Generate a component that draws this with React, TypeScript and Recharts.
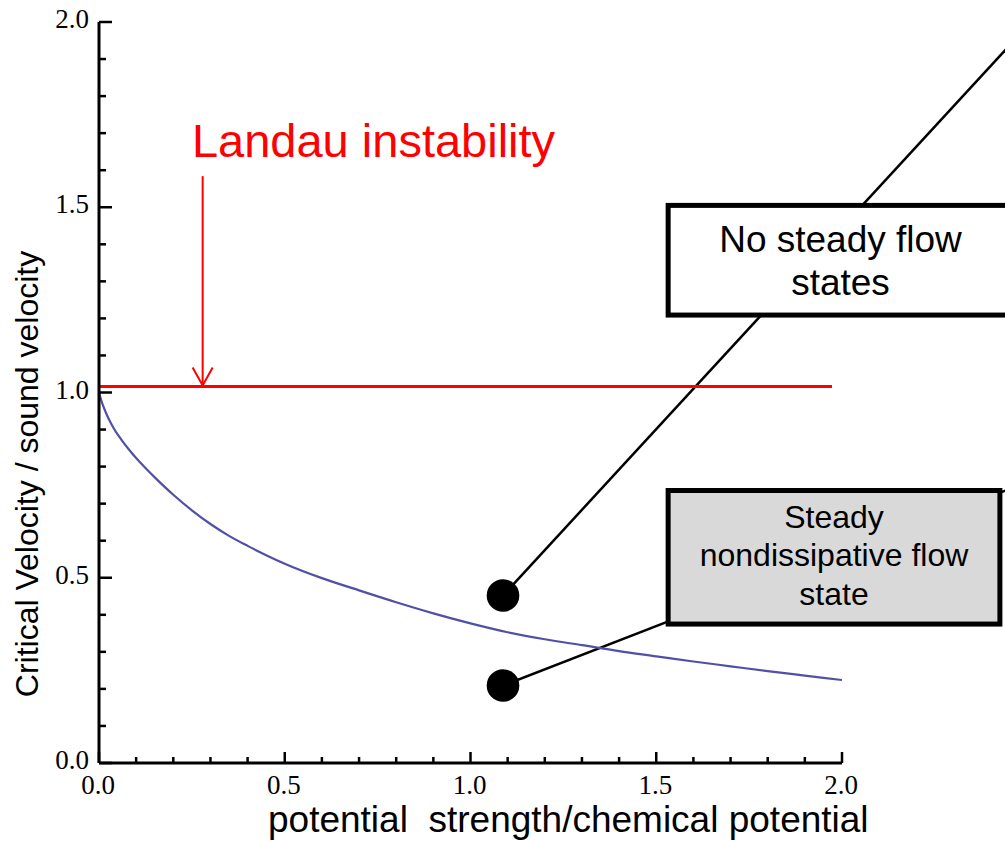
import React from 'react';
import {
  ComposedChart,
  Line,
  Scatter,
  XAxis,
  YAxis,
  ReferenceLine,
  ReferenceArea,
  ReferenceDot,
} from 'recharts';

// potential strength / chemical potential
const potentialStrength = [0, 0.005, 0.01, 0.02, 0.03, 0.04, 0.05, 0.06, 0.08, 0.1, 0.125, 0.15, 0.2, 0.25, 0.3, 0.35, 0.4, 0.45, 0.5, 0.6, 0.7, 0.8, 0.9, 1.0, 1.1, 1.2, 1.3, 1.4, 1.5, 1.6, 1.7, 1.8, 1.9, 2.0];
// critical velocity / sound velocity
const criticalVelocity = [1.0, 0.982, 0.967, 0.942, 0.921, 0.903, 0.887, 0.873, 0.847, 0.823, 0.796, 0.771, 0.724, 0.682, 0.645, 0.613, 0.586, 0.561, 0.538, 0.499, 0.466, 0.434, 0.404, 0.377, 0.353, 0.334, 0.318, 0.302, 0.288, 0.274, 0.261, 0.248, 0.236, 0.224];

const xTicks = [0, 0.1, 0.2, 0.3, 0.4, 0.5, 0.6, 0.7, 0.8, 0.9, 1.0, 1.1, 1.2, 1.3, 1.4, 1.5, 1.6, 1.7, 1.8, 1.9, 2.0];
const yTicks = [0, 0.1, 0.2, 0.3, 0.4, 0.5, 0.6, 0.7, 0.8, 0.9, 1.0, 1.1, 1.2, 1.3, 1.4, 1.5, 1.6, 1.7, 1.8, 1.9, 2.0];

// Landau limit line
const landauLevel = 1.016;
const landauEnd = 1.973;
// arrow (x, top, tip)
const arrowX = 0.279;
const arrowTop = 1.584;
const arrowTip = 1.019;
const landauText = 'Landau instability';
const landauTextPos = { x: 0.739, y: 1.636 };

// markers
const markerX = [1.0875, 1.0875];
const markerY = [0.452, 0.209];
// leader line far ends
const leaderEndX = [2.452, 2.452];
const leaderEndY = [1.938, 0.74];

// boxes
const unstableBox = { x1: 1.532, x2: 2.46, y1: 1.209, y2: 1.505 };
const unstableLines = ['No steady flow', 'states'];
const steadyBox = { x1: 1.532, x2: 2.425, y1: 0.375, y2: 0.7355 };
const steadyLines = ['Steady', 'nondissipative flow', 'state'];

const xLabel = 'potential  strength/chemical potential';
const yLabel = 'Critical Velocity / sound velocity';

const curveData = potentialStrength.map((x, i) => ({ x, v: criticalVelocity[i] }));
const markerData = markerX.map((x, i) => ({ x, y: markerY[i] }));

const SANS = '"Liberation Sans", Arial, sans-serif';
const SERIF = '"Liberation Serif", "Times New Roman", serif';

const isMajor = (v: number) => Math.abs(v * 2 - Math.round(v * 2)) < 1e-6;

const XTick = (props: any) => {
  const { x, y, payload } = props;
  const v = payload.value as number;
  const major = isMajor(v);
  return (
    <g>
      <line x1={x} x2={x} y1={y} y2={y - (major ? 11 : 6)} stroke="#000" strokeWidth={2.5} />
      {major && (
        <text x={x - 1} y={y + 31} textAnchor="middle" fontFamily={SERIF} fontSize={27} fill="#000">
          {v.toFixed(1)}
        </text>
      )}
    </g>
  );
};

const YTick = (props: any) => {
  const { x, y, payload } = props;
  const v = payload.value as number;
  const major = isMajor(v);
  return (
    <g>
      <line x1={x} x2={x + (major ? 13 : 7)} y1={y} y2={y} stroke="#000" strokeWidth={2.5} />
      {major && (
        <text x={x - 10} y={y + 6} textAnchor="end" fontFamily={SERIF} fontSize={27} fill="#000">
          {v.toFixed(1)}
        </text>
      )}
    </g>
  );
};

const ArrowShape = (p: any) => {
  const { x1, y1, x2, y2 } = p;
  return (
    <g>
      <line x1={x1} y1={y1} x2={x2} y2={y2} stroke="#ff0000" strokeWidth={2} />
      <polyline
        points={`${x2 - 10},${y2 - 18} ${x2},${y2} ${x2 + 10},${y2 - 18}`}
        fill="none"
        stroke="#ff0000"
        strokeWidth={2}
      />
    </g>
  );
};

// leader line: from lower-left corner (marker) to upper-right corner (far end)
const LeaderShape = (p: any) => {
  const { x, y, width, height } = p;
  return <line x1={x} y1={y + height} x2={x + width} y2={y} stroke="#000" strokeWidth={2.5} />;
};

const makeBox = (lines: string[], fill: string, fontSize: number, first: number, gap: number) => (p: any) => {
  const { x, y, width, height } = p;
  const cx = x + width / 2;
  return (
    <g>
      <rect x={x} y={y} width={width} height={height} fill={fill} stroke="#000" strokeWidth={5} />
      {lines.map((t, i) => (
        <text key={i} x={cx} y={y + first + i * gap} textAnchor="middle" fontFamily={SANS} fontSize={fontSize} fill="#000">
          {t}
        </text>
      ))}
    </g>
  );
};

const UnstableBoxShape = makeBox(unstableLines, '#ffffff', 37, 46.5, 43);
const SteadyBoxShape = makeBox(steadyLines, '#d9d9d9', 32, 37.5, 38.5);

const MarkerShape = (p: any) => <circle cx={p.cx} cy={p.cy} r={16.3} fill="#000" />;

const LandauTextShape = (p: any) => (
  <text x={p.cx} y={p.cy} textAnchor="middle" fontFamily={SANS} fontSize={47} fill="#ff0000">
    {landauText}
  </text>
);

export default function App() {
  return (
    <div style={{ position: 'absolute', left: 0, top: 0, width: 1005, height: 841, background: '#fff' }}>
      <ComposedChart
        width={1005}
        height={841}
        data={curveData}
        margin={{ top: 22, right: 163, bottom: 38, left: 39 }}
      >
        <XAxis
          type="number"
          dataKey="x"
          domain={[0, 2]}
          ticks={xTicks}
          interval={0}
          tick={XTick}
          tickSize={0}
          tickMargin={0}
          tickLine={false}
          axisLine={{ stroke: '#000', strokeWidth: 3 }}
          height={40}
          allowDataOverflow
          label={{
            content: (lp: any) => {
              const vb = lp.viewBox || { x: 99, y: 763 };
              return (
                <text x={vb.x + 169} y={vb.y + 69} fontFamily={SANS} fontSize={37} fill="#000" style={{ whiteSpace: 'pre' }}>
                  {xLabel}
                </text>
              );
            },
          }}
        />
        <YAxis
          type="number"
          domain={[0, 2]}
          ticks={yTicks}
          interval={0}
          tick={YTick}
          tickSize={0}
          tickMargin={0}
          tickLine={false}
          axisLine={{ stroke: '#000', strokeWidth: 3 }}
          width={60}
          allowDataOverflow
          label={{
            content: (lp: any) => {
              const vb = lp.viewBox || { x: 39, y: 22, width: 60, height: 741 };
              const cx = vb.x - 1;
              const cy = vb.y + vb.height / 2 + 81.5;
              return (
                <text x={cx} y={cy} textAnchor="middle" fontFamily={SANS} fontSize={32} fill="#000" transform={`rotate(-90 ${cx} ${cy})`}>
                  {yLabel}
                </text>
              );
            },
          }}
        />
        <Line
          type="monotone"
          dataKey="v"
          stroke="#5050a6"
          strokeWidth={2.2}
          dot={false}
          activeDot={false}
          isAnimationActive={false}
        />
        <ReferenceLine
          segment={[{ x: 0, y: landauLevel }, { x: landauEnd, y: landauLevel }]}
          stroke="#ff0000"
          strokeWidth={3}
          ifOverflow="visible"
        />
        <ReferenceLine
          segment={[{ x: arrowX, y: arrowTop }, { x: arrowX, y: arrowTip }]}
          shape={ArrowShape}
          ifOverflow="visible"
        />
        {markerX.map((mx, i) => (
          <ReferenceArea
            key={`leader-${i}`}
            x1={mx}
            x2={leaderEndX[i]}
            y1={markerY[i]}
            y2={leaderEndY[i]}
            ifOverflow="visible"
            shape={LeaderShape}
          />
        ))}
        <ReferenceArea
          x1={unstableBox.x1}
          x2={unstableBox.x2}
          y1={unstableBox.y1}
          y2={unstableBox.y2}
          ifOverflow="visible"
          shape={UnstableBoxShape}
        />
        <ReferenceArea
          x1={steadyBox.x1}
          x2={steadyBox.x2}
          y1={steadyBox.y1}
          y2={steadyBox.y2}
          ifOverflow="visible"
          shape={SteadyBoxShape}
        />
        <Scatter data={markerData} dataKey="y" shape={MarkerShape} isAnimationActive={false} />
        <ReferenceDot x={landauTextPos.x} y={landauTextPos.y} r={0} ifOverflow="visible" shape={LandauTextShape} />
      </ComposedChart>
    </div>
  );
}
